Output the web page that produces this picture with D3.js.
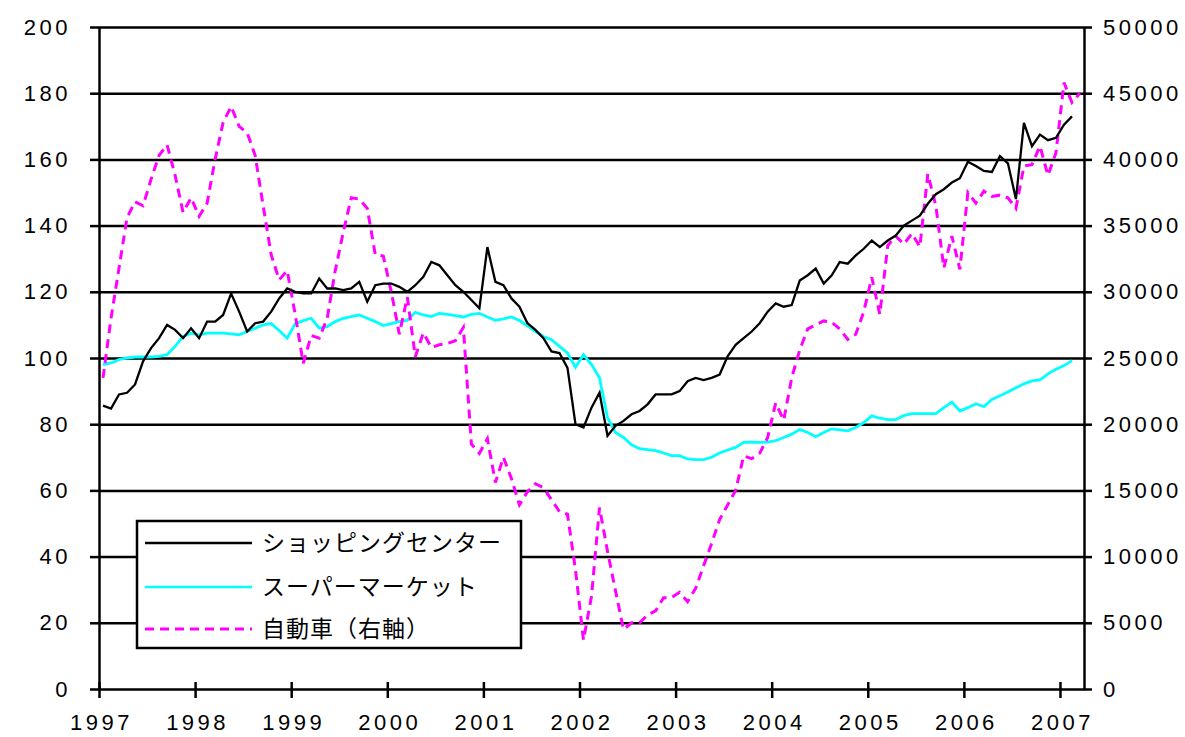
<!DOCTYPE html>
<html>
<head>
<meta charset="utf-8">
<script src="https://cdnjs.cloudflare.com/ajax/libs/d3/7.8.5/d3.min.js"></script>
<style>
  body { margin: 0; background: #fff; }
  .tick text { font-family: "Liberation Sans", Arial, sans-serif; font-size: 22px; letter-spacing: 3.5px; fill: #000; }
  .legend text { font-family: "Noto Sans CJK JP", sans-serif; font-size: 23px; letter-spacing: 1px; fill: #000; }
</style>
</head>
<body>
<div id="chart"></div>
<script>
// tick labels
const yearTicks = [1997, 1998, 1999, 2000, 2001, 2002, 2003, 2004, 2005, 2006, 2007];
const leftTicks = [0, 20, 40, 60, 80, 100, 120, 140, 160, 180, 200];
const rightTicks = [0, 5000, 10000, 15000, 20000, 25000, 30000, 35000, 40000, 45000, 50000];

// series names (legend order)
const seriesNames = ["ショッピングセンター", "スーパーマーケット", "自動車（右軸）"];

// monthly values from Jan 1997
const shopping = [
  85.6, 84.7, 89, 89.5, 92, 99, 103, 106, 110, 108.5, 106, 109,
  106, 111, 111, 113, 119.5, 114, 108, 110.5, 111, 114, 118, 121,
  120, 119.5, 119.5, 124, 121, 121, 120.5, 121, 123, 117, 122, 122.5,
  122.5, 121.5, 120, 122, 124.5, 129, 128, 125, 122, 120, 117.5, 115,
  133.5, 123, 122, 118, 115.5, 110.5, 108.5, 106, 102, 101.5, 97, 80,
  79, 85, 89.5, 76.5, 79.5, 81, 83, 84, 86, 89, 89, 89,
  90, 93, 94, 93.3, 94, 95, 100.5, 104, 106, 108, 110.5, 114,
  116.5, 115.5, 116, 123.4, 125, 127, 122.5, 125, 129, 128.5, 131, 133,
  135.5, 133.5, 135.5, 137, 140, 141.5, 143, 146.6, 149.5, 151, 153, 154.3,
  159.3, 158, 156.5, 156.2, 161, 158.8, 148, 171, 164, 167.5, 165.8, 166.5,
  170.5, 173
];
const supermarket = [
  98, 98.5, 99.5, 100, 100.3, 100.3, 100.3, 100.5, 101, 103.5, 106.5, 107.5,
  107, 107.5, 107.5, 107.5, 107.3, 107, 108, 109, 110, 110.4, 108.3, 106,
  110.4, 111.3, 112, 109, 109.5, 111, 112, 112.5, 113, 112, 111, 109.8,
  110.4, 111, 111.4, 113.8, 113, 112.5, 113.5, 113.2, 112.8, 112.4, 113.2, 113.5,
  112.4, 111.4, 111.8, 112.4, 111.3, 109.7, 108, 106.5, 105.5, 103.5, 101.5, 97.2,
  101, 98, 94, 82, 77.5, 76, 73.8, 72.6, 72.3, 72, 71.3, 70.5,
  70.5, 69.5, 69.3, 69.3, 70, 71.3, 72.2, 73, 74.5, 74.6, 74.5, 74.6,
  75, 76, 77, 78.4, 77.5, 76.2, 77.5, 78.6, 78.3, 78, 79, 80.5,
  82.5, 81.8, 81.4, 81.4, 82.6, 83.2, 83.2, 83.2, 83.2, 85, 86.7, 84,
  85, 86.2, 85.3, 87.5, 88.6, 89.7, 91, 92.2, 93.1, 93.4, 95.2, 96.6,
  97.7, 99.2
];
const autos = [
  23500, 28000, 31800, 35600, 36800, 36500, 38500, 40300, 41100, 38800, 36000, 37100,
  35700, 36700, 40000, 42800, 44000, 42500, 42000, 40300, 36500, 32800, 30900, 31600,
  28300, 24600, 26700, 26500, 28000, 31600, 34500, 37100, 37000, 36300, 32800, 32700,
  30000, 26800, 29600, 25100, 26900, 25800, 26000, 26100, 26300, 27300, 18500, 17800,
  18900, 15600, 17500, 15900, 13900, 14900, 15500, 15200, 14300, 13400, 13200, 9000,
  3700, 7000, 13700, 10400, 7400, 4500, 5000, 5000, 5600, 5900, 6900, 6900,
  7300, 6600, 7600, 9300, 11000, 12800, 13900, 15000, 17600, 17400, 17800, 19000,
  21600, 20300, 23500, 25600, 27200, 27500, 27800, 27700, 27200, 26400, 26800, 28500,
  31100, 28300, 33500, 34200, 33600, 34400, 33400, 38900, 36500, 31800, 34200, 31700,
  37500, 36700, 37600, 37200, 37300, 37100, 36300, 39500, 39600, 41000, 38800, 40500,
  45800, 44300, 45000
];

const margin = {top: 27, right: 101, bottom: 48, left: 99},
    width = 1185 - margin.left - margin.right,
    height = 737 - margin.top - margin.bottom;

const svg = d3.select("#chart")
  .append("svg")
    .attr("width", 1185)
    .attr("height", 737)
  .append("g")
    .attr("transform", `translate(${margin.left}, ${margin.top})`);

const x = d3.scaleLinear().domain([1997, 2007.25]).range([0, width]);
const yL = d3.scaleLinear().domain([0, 200]).range([height, 0]);
const yR = d3.scaleLinear().domain([0, 50000]).range([height, 0]);

// month index -> middle of that month
const monthPos = i => x(1997 + (i + 0.5) / 12);

// gridlines
const grid = svg.append("g")
  .call(d3.axisLeft(yL).tickValues(leftTicks.filter(d => d > 0)).tickSize(-width).tickFormat(""));
grid.select(".domain").remove();
grid.selectAll("line").attr("stroke", "#000").attr("stroke-width", 2.5);

// axes
const styleAxis = g => {
  g.select(".domain").attr("stroke", "#000").attr("stroke-width", 2.5);
  g.selectAll(".tick line").attr("stroke", "#000").attr("stroke-width", 2.5);
};

svg.append("g")
  .call(d3.axisLeft(yL).tickValues(leftTicks).tickSize(9).tickSizeOuter(0).tickPadding(19))
  .call(styleAxis);

svg.append("g")
  .attr("transform", `translate(${width}, 0)`)
  .call(d3.axisRight(yR).tickValues(rightTicks).tickSize(8).tickSizeOuter(0).tickPadding(11).tickFormat(d3.format("d")))
  .call(styleAxis);

const xAxis = svg.append("g")
  .attr("transform", `translate(0, ${height})`)
  .call(d3.axisBottom(x).tickValues(yearTicks).tickSize(9).tickSizeOuter(0).tickPadding(16).tickFormat(d3.format("d")))
  .call(styleAxis);
xAxis.selectAll(".tick line").attr("y1", -7);
xAxis.selectAll(".tick text").attr("dx", "2");

// lines
const lineL = d3.line().x((d, i) => monthPos(i)).y(d => yL(d));
const lineR = d3.line().x((d, i) => monthPos(i)).y(d => yR(d));

svg.append("path")
  .datum(supermarket)
  .attr("fill", "none")
  .attr("stroke", "#00ffff")
  .attr("stroke-width", 2.8)
  .attr("d", lineL);

svg.append("path")
  .datum(autos)
  .attr("fill", "none")
  .attr("stroke", "#ff00ff")
  .attr("stroke-width", 3)
  .attr("stroke-dasharray", "9,6")
  .attr("d", lineR);

svg.append("path")
  .datum(shopping)
  .attr("fill", "none")
  .attr("stroke", "#000")
  .attr("stroke-width", 2.3)
  .attr("d", lineL);

// legend
const legend = d3.select("svg").append("g").attr("class", "legend");
legend.append("rect")
  .attr("x", 137).attr("y", 521)
  .attr("width", 384).attr("height", 127)
  .attr("fill", "#fff")
  .attr("stroke", "#000")
  .attr("stroke-width", 2.5);

const legendStyles = [
  {color: "#000", dash: null},
  {color: "#00ffff", dash: null},
  {color: "#ff00ff", dash: "9,6"}
];
const rowY = [543, 587, 629];

seriesNames.forEach((name, i) => {
  legend.append("line")
    .attr("x1", 145).attr("x2", 252)
    .attr("y1", rowY[i]).attr("y2", rowY[i])
    .attr("stroke", legendStyles[i].color)
    .attr("stroke-width", i === 2 ? 3 : 2.5)
    .attr("stroke-dasharray", legendStyles[i].dash);
  legend.append("text")
    .attr("x", 262).attr("y", rowY[i])
    .attr("dy", "0.36em")
    .text(name);
});
</script>
</body>
</html>
